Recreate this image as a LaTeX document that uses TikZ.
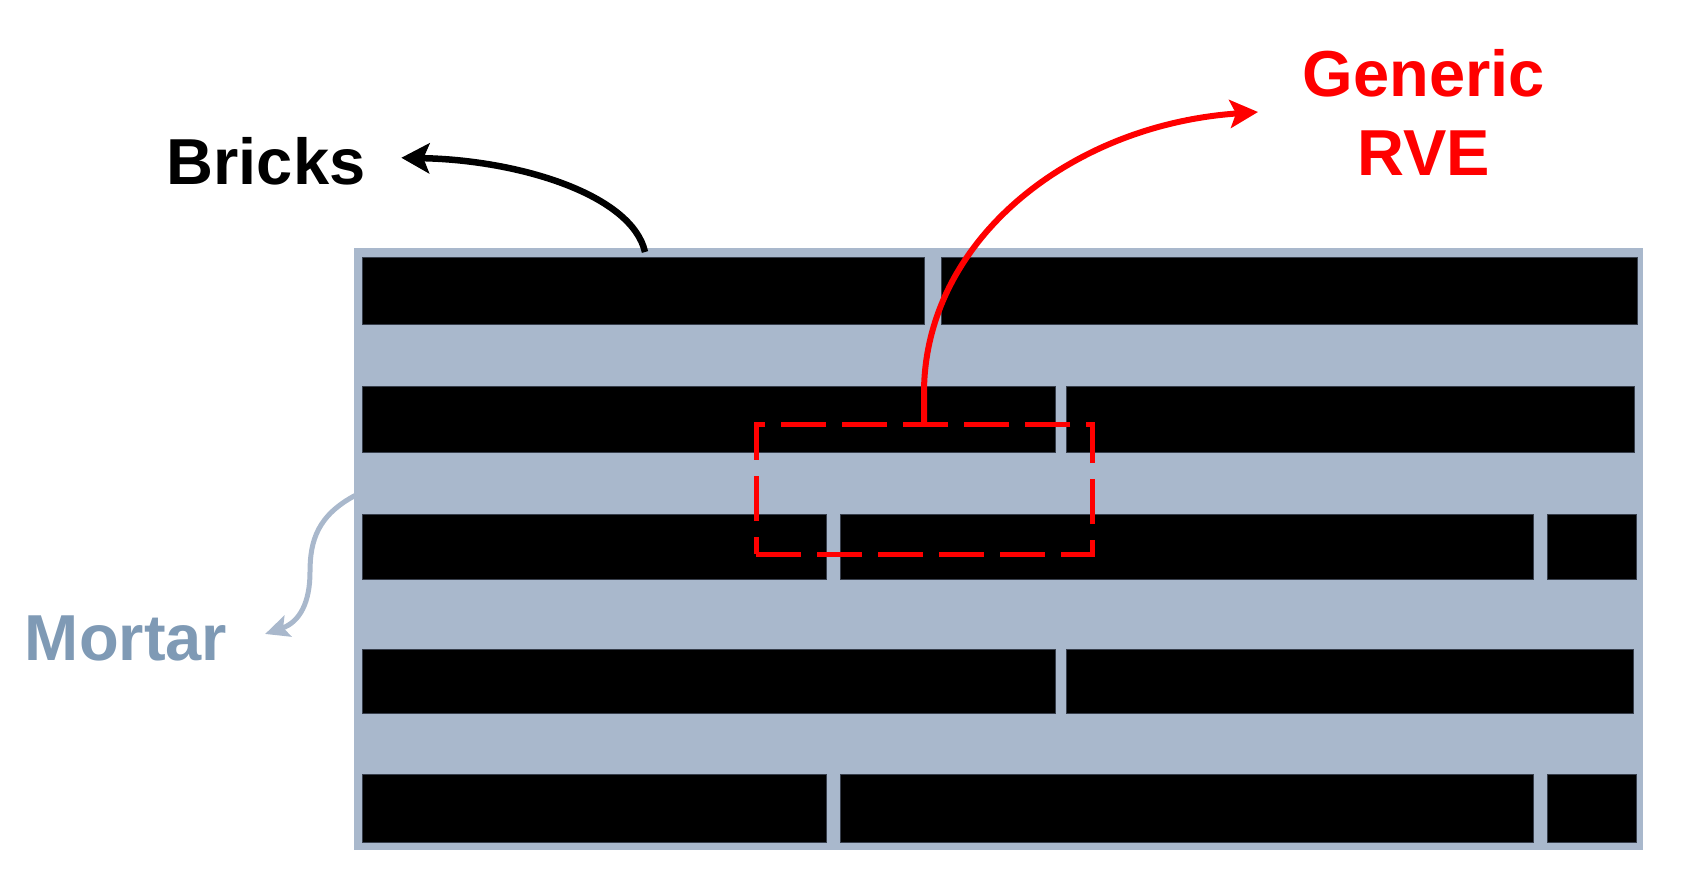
\documentclass[tikz,border=0pt]{standalone}
\usepackage{fontspec}
\setmainfont{Liberation Sans}
\usetikzlibrary{arrows.meta}
\definecolor{mortar}{RGB}{169,184,204}
\definecolor{mortartext}{RGB}{127,154,181}
\definecolor{brickedge}{RGB}{55,62,75}
\definecolor{rvered}{RGB}{255,0,0}
\tikzset{
  wallbox/.style={fill=mortar, draw=none, inner sep=0pt, outer sep=0pt},
  brick/.style={fill=black, draw=brickedge, line width=1pt},
  lbl/.style={font=\fontsize{65}{79}\selectfont\bfseries, inner sep=0pt, outer sep=0pt},
  rvebox/.style={draw=rvered, line width=5pt, dash pattern=on 45pt off 16pt, inner sep=0pt, outer sep=0pt},
  blackarrow/.style={draw=black, line width=6.5pt, -{Stealth[length=28pt,width=30pt,inset=6pt]}},
  redarrow/.style={draw=rvered, line width=6pt, -{Stealth[length=28pt,width=28pt,inset=6pt]}},
  mortararrow/.style={draw=mortar, line width=5pt, -{Stealth[length=24pt,width=22pt,inset=5pt]}},
}
\begin{document}
\begin{tikzpicture}[x=1pt,y=-1pt]
\useasboundingbox (0,0) rectangle (1691,891);
% wall (mortar)
\node[wallbox, minimum width=1289pt, minimum height=602pt] (wall) at (998.5,549) {};
% bricks
\foreach \ya/\yb/\xs in {257/324/{362/924,941/1637},
                         386/452/{362/1055,1066/1634},
                         514/579/{362/826,840/1533,1547/1636},
                         649/713/{362/1055,1066/1633},
                         774/842/{362/826,840/1533,1547/1636}}{
  \foreach \xa/\xb in \xs {
    \path[brick] (\xa,\ya) rectangle (\xb,\yb);
  }
}
% RVE box
\node[rvebox, minimum width=336pt, minimum height=130pt] (rve) at (924,489) {};
% labels
\node[lbl, anchor=base] (bricks) at (266,184) {Bricks};
\node[lbl, anchor=base, text=mortartext] (mortarlbl) at (126,660) {Mortar};
\node[lbl, anchor=north, align=center, text=rvered] (generic) at (1424,49) {Generic\\RVE};
% connector ends
\coordinate (bricksfoot) at (645,252);
\coordinate (mortarfoot) at (356,495);
\coordinate (rvetip) at (1258,112);
% connectors
\draw[blackarrow] (bricksfoot) .. controls (632,195) and (520,160) .. ([xshift=36pt,yshift=3pt]bricks.east);
\draw[redarrow] (rve.north) -- (924,390) .. controls (926,240) and (1070,125) .. (rvetip);
\draw[mortararrow] (mortarfoot) .. controls (318,515) and (310,540) .. (310,572)
   .. controls (310,602) and (300,622) .. ([xshift=38pt,yshift=4pt]mortarlbl.east);
\end{tikzpicture}
\end{document}
